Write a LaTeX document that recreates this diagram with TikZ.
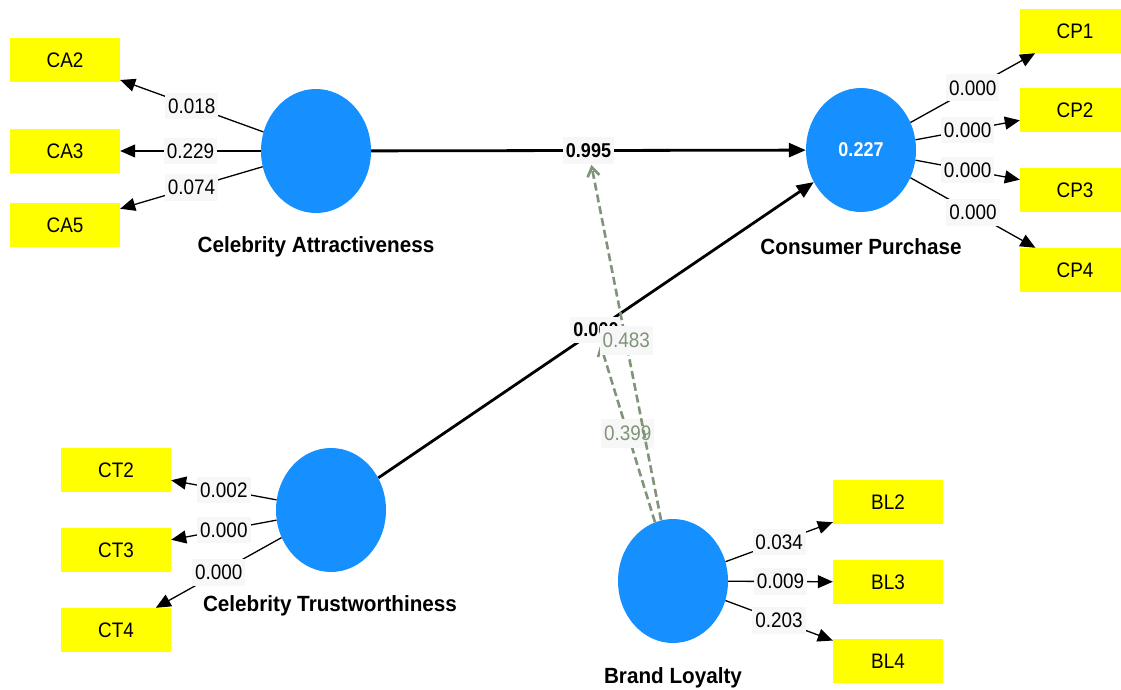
\documentclass[tikz,border=0pt]{standalone}
\usepackage{fontspec}
\setmainfont{Liberation Sans}
\newfontfamily\regf[FakeStretch=0.9]{Liberation Sans}
\newfontfamily\namef[FakeStretch=0.94]{Liberation Sans}
\usetikzlibrary{arrows.meta,shapes.geometric}
\definecolor{plsblue}{RGB}{22,144,255}
\definecolor{dashgreen}{RGB}{128,148,122}
\definecolor{lblbg}{RGB}{247,247,247}
\definecolor{indyellow}{RGB}{255,255,0}
\tikzset{
  lv/.style={ellipse, fill=plsblue, minimum width=110pt, minimum height=124pt, inner sep=0pt},
  ind/.style={rectangle, fill=indyellow, minimum width=110pt, minimum height=44pt, inner sep=0pt,
    font=\regf\fontsize{21}{21}\selectfont},
  ld/.style={draw=black, line width=1.3pt, -{Triangle[length=15pt,width=13pt]}},
  sp/.style={draw=black, line width=2.8pt, -{Triangle[length=17pt,width=14pt]}},
  dsh/.style={draw=dashgreen, line width=2.6pt, dash pattern=on 8pt off 4pt,
    -{Straight Barb[length=9pt,width=12pt]}},
  wlbl/.style={fill=lblbg, inner xsep=3pt, inner ysep=6pt, text=black,
    font=\regf\fontsize{21}{21}\selectfont},
  slbl/.style={fill=lblbg, inner xsep=3pt, inner ysep=6pt, text=black,
    font=\regf\bfseries\fontsize{20}{20}\selectfont},
  dlbl/.style={fill=lblbg, inner xsep=3pt, inner ysep=7pt, text=dashgreen,
    font=\regf\fontsize{21}{21}\selectfont},
  lvname/.style={font=\namef\bfseries\fontsize{22}{22}\selectfont, text=black},
}
\begin{document}
\begin{tikzpicture}[x=1pt,y=-1pt]
\useasboundingbox (0,0) rectangle (1121,690);
\clip (0,0) rectangle (1121,690);
\fill[white] (0,0) rectangle (1121,690);

% latent variables
\node[lv] (CA) at (316,151) {};
\node[lv] (CP) at (861,150) {\regf\bfseries\fontsize{20}{20}\selectfont\color{white}0.227};
\node[lv] (CT) at (331,510) {};
\node[lv] (BL) at (673,581) {};

\node[lvname] (nCA) at (316,247) {Celebrity Attractiveness};
\node[lvname] (nCP) at (861,247) {Consumer Purchase};
\node[lvname] (nCT) at (330,606) {Celebrity Trustworthiness};
\node[lvname] (nBL) at (673,678) {Brand Loyalty};

% indicators
\node[ind] (CA2) at (65,60) {CA2};
\node[ind] (CA3) at (65,151) {CA3};
\node[ind] (CA5) at (65,225) {CA5};
\node[ind] (CT2) at (116,470) {CT2};
\node[ind] (CT3) at (116,550) {CT3};
\node[ind] (CT4) at (116,630) {CT4};
\node[ind] (CP1) at (1075,31) {CP1};
\node[ind] (CP2) at (1075,110) {CP2};
\node[ind] (CP3) at (1075,190) {CP3};
\node[ind] (CP4) at (1075,270) {CP4};
\node[ind] (BL2) at (888,502) {BL2};
\node[ind] (BL3) at (888,582) {BL3};
\node[ind] (BL4) at (888,661) {BL4};

% outer loadings
\draw[ld] (CA) -- node[wlbl] {0.018} (CA2);
\draw[ld] (CA) -- node[wlbl] {0.229} (CA3);
\draw[ld] (CA) -- node[wlbl] {0.074} (CA5);
\draw[ld] (CT) -- node[wlbl] {0.002} (CT2);
\draw[ld] (CT) -- node[wlbl] {0.000} (CT3);
\draw[ld] (CT) -- node[wlbl] {0.000} (CT4);
\draw[ld] (CP) -- node[wlbl] {0.000} (CP1);
\draw[ld] (CP) -- node[wlbl] {0.000} (CP2);
\draw[ld] (CP) -- node[wlbl] {0.000} (CP3);
\draw[ld] (CP) -- node[wlbl] {0.000} (CP4);
\draw[ld] (BL) -- node[wlbl] {0.034} (BL2);
\draw[ld] (BL) -- node[wlbl] {0.009} (BL3);
\draw[ld] (BL) -- node[wlbl] {0.203} (BL4);

% structural paths
\draw[sp] (CA) -- node[slbl] (l1) {0.995} (CP);
\draw[sp] (CT) -- node[slbl] (l2) {0.000} (CP);

% moderating effects
\draw[dsh] (BL) -- node[dlbl] {0.399} (l2);
\draw[dsh] (BL) -- node[dlbl, yshift=2pt] {0.483} (l1);
\end{tikzpicture}
\end{document}
